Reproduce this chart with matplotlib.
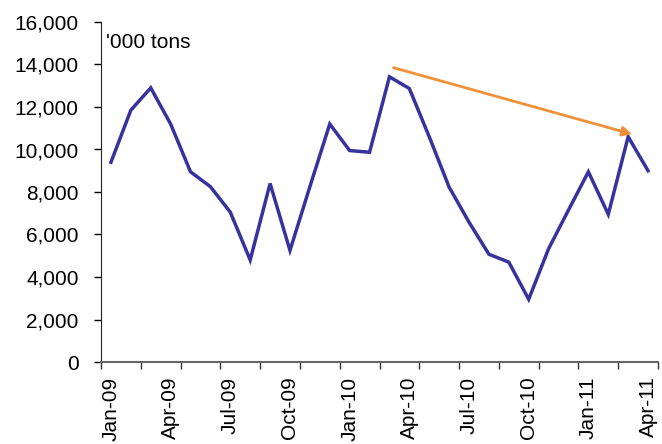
import matplotlib
matplotlib.use("Agg")
import matplotlib.pyplot as plt
from matplotlib.ticker import FuncFormatter, FixedLocator

plt.rcParams['font.family'] = ['Liberation Sans', 'DejaVu Sans']

months = ["Jan-09", "Feb-09", "Mar-09", "Apr-09", "May-09", "Jun-09", "Jul-09", "Aug-09",
          "Sep-09", "Oct-09", "Nov-09", "Dec-09", "Jan-10", "Feb-10", "Mar-10", "Apr-10",
          "May-10", "Jun-10", "Jul-10", "Aug-10", "Sep-10", "Oct-10", "Nov-10", "Dec-10",
          "Jan-11", "Feb-11", "Mar-11", "Apr-11"]
values = [9400, 11850, 12900, 11200, 8950, 8250, 7050, 4800,
          8400, 5250, 8250, 11200, 9950, 9870, 13420, 12870,
          10600, 8230, 6580, 5070, 4700, 2950, 5330, 7150,
          8950, 6950, 10600, 9000]
unit_label = "'000 tons"
trend_start = (14.2, 13850)
trend_end = (26.2, 10720)

fig = plt.figure(figsize=(6.62, 4.44), dpi=100)
ax = fig.add_axes([101 / 662, 1 - 362 / 444, (658 - 101) / 662, (362 - 22) / 444])

x = list(range(len(values)))
ax.plot(x, values, color='#37339E', lw=2.5, solid_joinstyle='miter')

ax.annotate('', xy=trend_end, xytext=trend_start,
            arrowprops=dict(arrowstyle='-|>', color='#F0913A', lw=2.0,
                            mutation_scale=14, shrinkA=0, shrinkB=0))

ax.set_xlim(-0.5, len(values) - 0.5)
ax.set_ylim(0, 16000)
ax.set_yticks(range(0, 16001, 2000))
ax.yaxis.set_major_formatter(FuncFormatter(lambda v, p: f"{int(v):,}"))

ax.xaxis.set_major_locator(FixedLocator([i - 0.5 for i in range(0, len(values) + 1, 2)]))
ax.xaxis.set_major_formatter(FuncFormatter(lambda v, p: ""))
ax.set_xticks(list(range(0, len(values), 3)), minor=True)
ax.set_xticklabels([months[i] for i in range(0, len(values), 3)], minor=True,
                   rotation=90, fontsize=15)
ax.tick_params(axis='x', which='minor', length=0, pad=10.5)
ax.tick_params(axis='x', which='major', length=5, width=1, direction='out', color='#333333')
ax.tick_params(axis='y', length=5, width=1, direction='out', labelsize=15, pad=11)

for s in ['top', 'right']:
    ax.spines[s].set_visible(False)
ax.spines['left'].set_color('#222222')
ax.spines['bottom'].set_color('#666666')
ax.spines['bottom'].set_linewidth(1.5)

ax.text(0.009, 0.94, unit_label, transform=ax.transAxes,
        fontsize=15, va='center', ha='left')

fig.savefig("out.png", dpi=100)
